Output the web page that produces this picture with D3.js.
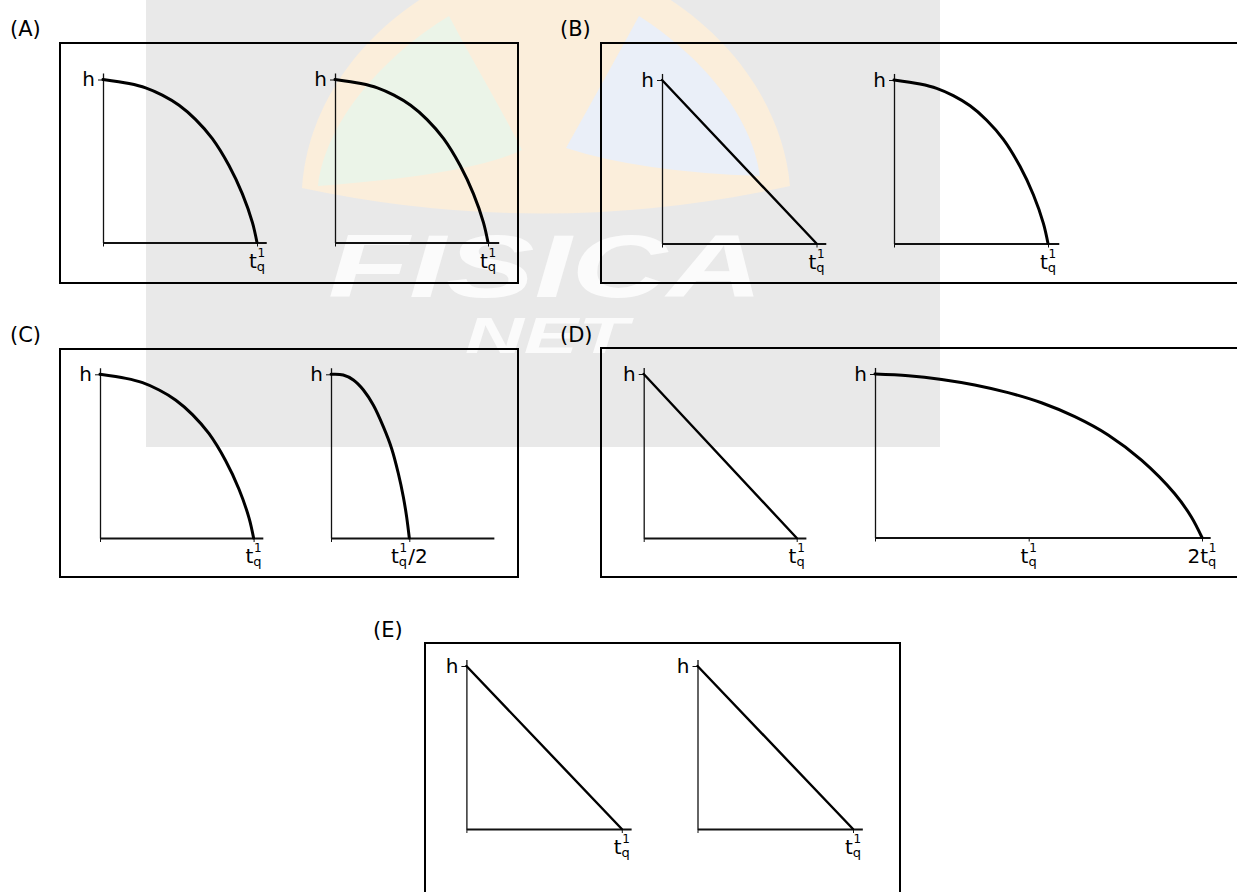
<!DOCTYPE html>
<html>
<head>
<meta charset="utf-8">
<script src="https://cdn.jsdelivr.net/npm/d3@7"></script>
<style>
  body { margin: 0; background: #fff; }
  svg { display: block; }
  .axis path, .axis line { stroke: #111; }
  .curve { fill: none; stroke: #000; stroke-linejoin: round; stroke-linecap: round; }
</style>
</head>
<body>
<div id="chart"></div>
<script>
// values (t in units of t_q^1, h in units of h)
var curveT  = [0, 0.169, 0.277, 0.385, 0.494, 0.602, 0.71, 0.818, 0.905, 0.97, 1];
var curveH  = [1, 0.975, 0.949, 0.904, 0.842, 0.754, 0.637, 0.472, 0.298, 0.123, 0];
var lineT   = [0, 1];
var lineH   = [1, 0];
var halfT   = [0, 0.078, 0.143, 0.207, 0.27, 0.334, 0.387, 0.43, 0.462, 0.483, 0.5];
var halfH   = [1, 0.996, 0.965, 0.904, 0.812, 0.68, 0.547, 0.394, 0.251, 0.129, 0];
var doubleT = [0, 0.204, 0.408, 0.61, 0.814, 1.018, 1.222, 1.426, 1.63, 1.832, 1.934, 2];
var doubleH = [1, 0.99, 0.967, 0.933, 0.886, 0.824, 0.739, 0.627, 0.473, 0.269, 0.127, 0];

// tick values and labels ("base|sub|sup|suffix")
var ticksStd    = [0, 1];
var ticksHalf   = [0, 0.5];
var ticksDouble = [0, 0.94, 2];
var labelsStd    = ["", "t|q|1|"];
var labelsHalf   = ["", "t|q|1|/2"];
var labelsDouble = ["", "t|q|1|", "2t|q|1|"];
var yLabel = "h";

var panelNames = ["(A)", "(B)", "(C)", "(D)", "(E)"];

var zip = function(ts, hs) { return ts.map(function(t, i) { return { t: t, h: hs[i] }; }); };

var width = 1237, height = 892;
var font = "'DejaVu Sans', Verdana, sans-serif";

var svg = d3.select("#chart").append("svg")
            .attr("width", width)
            .attr("height", height);

// watermark behind everything
var wm = svg.append("g").attr("class", "watermark");
wm.append("rect").attr("x", 146).attr("y", 0).attr("width", 794).attr("height", 447).attr("fill", "#e9e9e9");
wm.append("path")
  .attr("d", "M302,188 C308,95 375,15 465,-25 L625,-25 C715,15 782,95 790,186 Q546,240 302,188 Z")
  .attr("fill", "#fbeedb");
wm.append("path")
  .attr("d", "M449,16 C472,60 502,110 522,150 Q470,175 318,186 C326,120 385,55 449,16 Z")
  .attr("fill", "#ebf4e8");
wm.append("path")
  .attr("d", "M639,16 C700,55 752,115 760,176 Q640,172 566,148 C590,105 615,60 639,16 Z")
  .attr("fill", "#eaeff8");
wm.append("text")
  .attr("x", 328).attr("y", 297)
  .attr("textLength", 435).attr("lengthAdjust", "spacingAndGlyphs")
  .style("font-family", "'Liberation Sans', Arial, sans-serif")
  .style("font-weight", "bold").style("font-style", "italic")
  .style("font-size", "89px")
  .attr("fill", "#fbfbfb")
  .text("FISICA");
wm.append("text")
  .attr("x", 465).attr("y", 353)
  .attr("textLength", 163).attr("lengthAdjust", "spacingAndGlyphs")
  .style("font-family", "'Liberation Sans', Arial, sans-serif")
  .style("font-weight", "bold").style("font-style", "italic")
  .style("font-size", "50px")
  .attr("fill", "#fbfbfb")
  .text("NET");

// panel frames and letters
var frames = [
  { x: 60,  y: 43,  w: 458, h: 240, lx: 10,  ly: 36 },
  { x: 601, y: 43,  w: 650, h: 240, lx: 560, ly: 36 },
  { x: 60,  y: 349, w: 458, h: 228, lx: 10,  ly: 342 },
  { x: 601, y: 348, w: 650, h: 229, lx: 560, ly: 342 },
  { x: 425, y: 643, w: 475, h: 260, lx: 373, ly: 637 }
];

frames.forEach(function(f, i) {
  svg.append("rect")
    .attr("x", f.x).attr("y", f.y)
    .attr("width", f.w).attr("height", f.h)
    .attr("fill", "none").attr("stroke", "#000").attr("stroke-width", 2);
  svg.append("text")
    .attr("x", f.lx).attr("y", f.ly)
    .style("font-family", font).style("font-size", "21px")
    .text(panelNames[i]);
});

var yMax = 1.04;

var drawGraph = function(c) {
  var x = d3.scaleLinear().domain([0, c.tMax]).range([c.ox, c.ox + c.unit * c.tMax]);
  var y = d3.scaleLinear().domain([0, yMax]).range([c.oy, c.oy - c.hPx * yMax]);

  var g = svg.append("g");

  g.append("g")
    .attr("class", "axis")
    .attr("transform", "translate(" + c.ox + ",0)")
    .call(d3.axisLeft(y).tickValues([1]).tickFormat(function() { return yLabel; })
            .tickSize(5).tickPadding(3).tickSizeOuter(0))
    .call(function(a) { a.select(".domain").attr("stroke-width", 1.3); })
    .selectAll("text")
    .attr("fill", "#000")
    .style("font-family", font)
    .style("font-size", "20px");

  g.append("g")
    .attr("class", "axis")
    .attr("transform", "translate(0," + c.oy + ")")
    .call(d3.axisBottom(x).tickValues(c.ticks).tickFormat("").tickSize(4).tickSizeOuter(0))
    .call(function(a) { a.select(".domain").attr("stroke-width", 2); });

  // tick labels t_q^1 with sub/superscripts
  c.ticks.forEach(function(v, i) {
    if (!c.labels[i]) return;
    var parts = c.labels[i].split("|");
    var txt = g.append("text")
      .attr("x", x(v)).attr("y", c.oy + 25)
      .attr("text-anchor", "middle")
      .style("font-family", font)
      .style("font-size", "20px");
    txt.append("tspan").text(parts[0]);
    txt.append("tspan").style("font-size", "13px").attr("dy", 3).text(parts[1]);
    txt.append("tspan").style("font-size", "12px").attr("dx", -7.5).attr("dy", -14).text(parts[2]);
    if (parts[3]) txt.append("tspan").attr("dx", 1).attr("dy", 11).text(parts[3]);
  });

  var line = d3.line()
               .x(function(d) { return x(d.t); })
               .y(function(d) { return y(d.h); })
               .curve(d3.curveCatmullRom.alpha(0.5));

  g.append("path")
    .attr("class", "curve")
    .attr("stroke-width", c.sw)
    .attr("d", line(c.data));
};

var graphs = [
  // (A)
  { ox: 103,   oy: 242.5, unit: 154,   hPx: 163,   tMax: 1.06, ticks: ticksStd, labels: labelsStd, data: zip(curveT, curveH), sw: 3 },
  { ox: 335,   oy: 242.5, unit: 153,   hPx: 163,   tMax: 1.07, ticks: ticksStd, labels: labelsStd, data: zip(curveT, curveH), sw: 3 },
  // (B)
  { ox: 662,   oy: 243.5, unit: 154.5, hPx: 163.5, tMax: 1.06, ticks: ticksStd, labels: labelsStd, data: zip(lineT, lineH), sw: 2.4 },
  { ox: 894,   oy: 243.5, unit: 154,   hPx: 163.5, tMax: 1.07, ticks: ticksStd, labels: labelsStd, data: zip(curveT, curveH), sw: 3 },
  // (C)
  { ox: 100,   oy: 538,   unit: 153.6, hPx: 163.7, tMax: 1.06, ticks: ticksStd, labels: labelsStd, data: zip(curveT, curveH), sw: 3 },
  { ox: 331,   oy: 538,   unit: 156.6, hPx: 163.7, tMax: 1.04, ticks: ticksHalf, labels: labelsHalf, data: zip(halfT, halfH), sw: 3 },
  // (D)
  { ox: 643.7, oy: 538,   unit: 153,   hPx: 164,   tMax: 1.06, ticks: ticksStd, labels: labelsStd, data: zip(lineT, lineH), sw: 2.4 },
  { ox: 875,   oy: 537.5, unit: 163.5, hPx: 163.5, tMax: 2.05, ticks: ticksDouble, labels: labelsDouble, data: zip(doubleT, doubleH), sw: 3 },
  // (E)
  { ox: 466.4, oy: 829,   unit: 155.4, hPx: 163,   tMax: 1.06, ticks: ticksStd, labels: labelsStd, data: zip(lineT, lineH), sw: 2.4 },
  { ox: 697.5, oy: 829,   unit: 155.5, hPx: 163,   tMax: 1.06, ticks: ticksStd, labels: labelsStd, data: zip(lineT, lineH), sw: 2.4 }
];

graphs.forEach(drawGraph);
</script>
</body>
</html>
